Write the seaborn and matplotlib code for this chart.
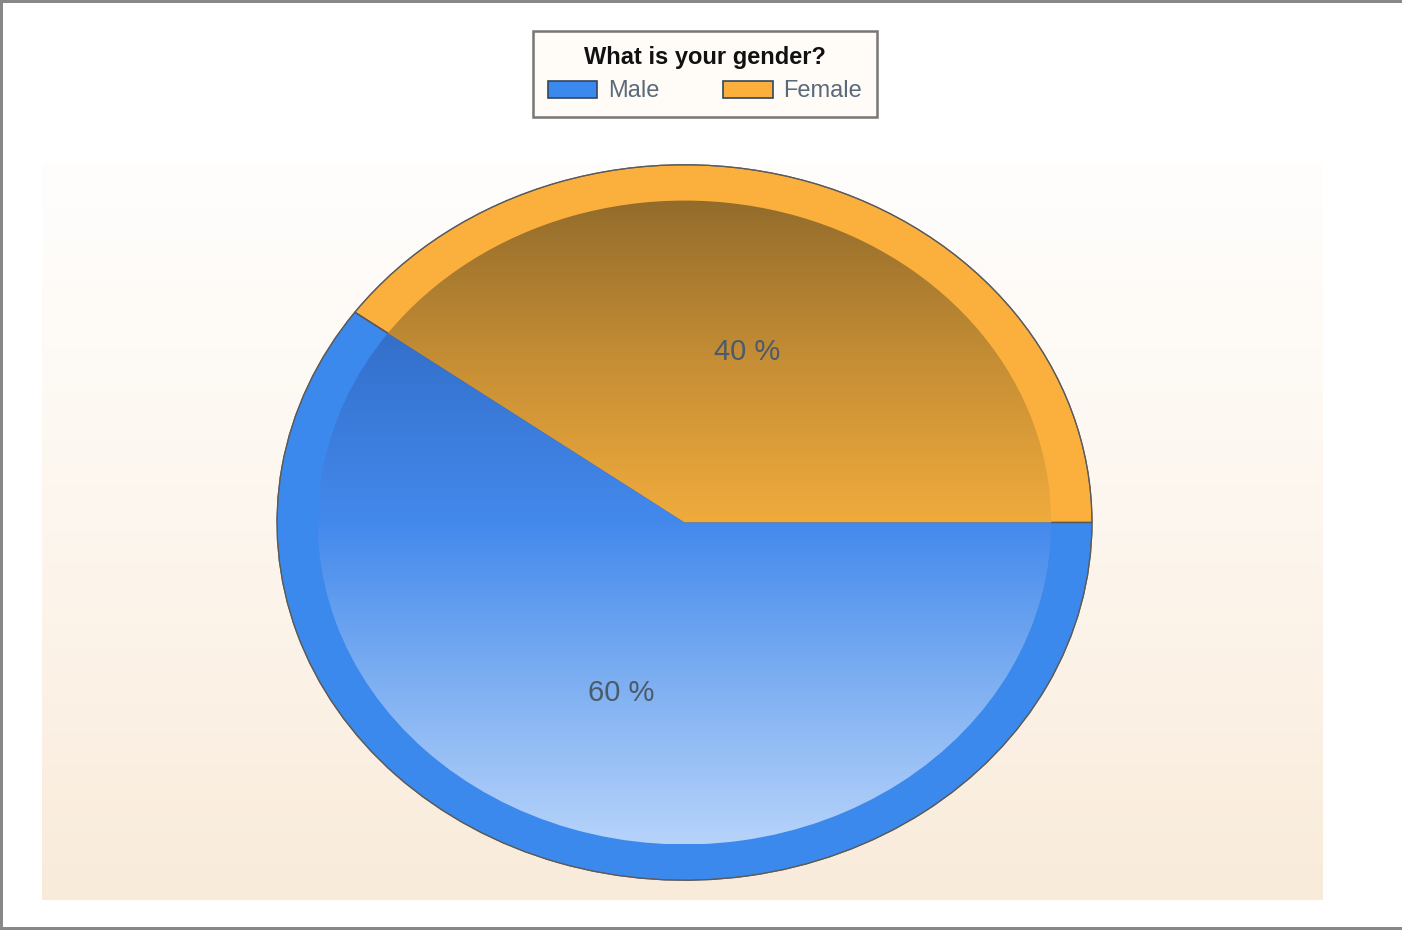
import numpy as np
import seaborn as sns
import matplotlib.pyplot as plt
from matplotlib.colors import LinearSegmentedColormap
from matplotlib.patches import Rectangle

# data
labels = ['Female', 'Male']
shares = [40, 60]
colors = ['#fbb03e', '#3b89ec']
legend_title = 'What is your gender?'

sns.set_style('white')
plt.rcParams['font.family'] = ['Liberation Sans', 'DejaVu Sans']

fig = plt.figure(figsize=(14.02, 9.30), dpi=100)

# background panel with soft vertical gradient
bg = fig.add_axes([42 / 1402, 1 - 900 / 930, 1281 / 1402, 737 / 930])
bg_cmap = LinearSegmentedColormap.from_list('bg', ['#fffefd', '#fdf6ee', '#f9ebda'])
bg.imshow(np.linspace(0, 1, 256).reshape(-1, 1), aspect='auto', cmap=bg_cmap,
          extent=(0, 1, 0, 1))
bg.axis('off')

# figure border (top, left, bottom)
for rect in [(0, 1 - 3 / 930, 1, 3 / 930), (0, 0, 3 / 1402, 1), (0, 0, 1, 3 / 930)]:
    fig.patches.append(Rectangle(rect[:2], rect[2], rect[3], transform=fig.transFigure,
                                 facecolor='#888888', edgecolor='none'))

# pie axes, stretched into an ellipse
ax = fig.add_axes([275 / 1402, 1 - 882 / 930, 819 / 1402, 719 / 930])
wedges, texts, autotexts = ax.pie(
    shares, colors=colors, startangle=0, counterclock=True, radius=1,
    autopct='%.0f %%', pctdistance=0.5,
    wedgeprops=dict(edgecolor='#6a6a6a', linewidth=0.9),
    textprops=dict(fontsize=21, color='#4b5b6b'))

inner, _ = ax.pie(shares, startangle=0, counterclock=True, radius=0.9,
                  colors=['none', 'none'], wedgeprops=dict(linewidth=0))

# gradient stops from bottom (0) to top (1) of the inner ellipse
grads = [
    [(0.0, '#f2ad3e'), (0.5, '#f0ab3d'), (0.75, '#c68e35'), (1.0, '#936c2b')],
    [(0.0, '#b6d3fa'), (0.25, '#7eaff2'), (0.5, '#4389ec'), (0.75, '#3673d0'), (1.0, '#2b5ca6')],
]
for w, g in zip(inner, grads):
    cm = LinearSegmentedColormap.from_list('g', g)
    im = ax.imshow(np.linspace(0, 1, 256).reshape(-1, 1), aspect='auto', cmap=cm,
                   extent=(-0.9, 0.9, -0.9, 0.9), origin='lower', zorder=1.5)
    im.set_clip_path(w)

# divider lines on top of gradients
for w in wedges:
    w.set_zorder(1)
ax.pie(shares, startangle=0, counterclock=True, radius=1, colors=['none', 'none'],
       wedgeprops=dict(edgecolor='#5a5a5a', linewidth=0.9))
for t in autotexts:
    t.set_zorder(5)

ax.set_xlim(-1.005, 1.005)
ax.set_ylim(-1.005, 1.005)
ax.set_aspect('auto')
ax.axis('off')

# legend
handles = [wedges[1], wedges[0]]
leg = fig.legend(handles, ['Male', 'Female'], ncol=2, loc='center',
                 bbox_to_anchor=(533 / 1402, 1 - 74 / 930, 344 / 1402, 0), mode='expand',
                 title=legend_title,
                 title_fontproperties=dict(weight='bold', size=17),
                 fontsize=17, frameon=True, fancybox=False, shadow=False,
                 handlelength=2.1, handleheight=0.75, handletextpad=0.45,
                 columnspacing=1.3, borderpad=0.62, labelspacing=0.5,
                 borderaxespad=0)
frame = leg.get_frame()
frame.set_edgecolor('#555555')
frame.set_linewidth(1.8)
frame.set_facecolor('#fffbf6')
leg.get_title().set_color('#111111')
for t in leg.get_texts():
    t.set_color('#5a6a7a')
for h in leg.legend_handles:
    h.set_edgecolor('#33465f')
    h.set_linewidth(1.2)

fig.savefig('out.png', dpi=100)
